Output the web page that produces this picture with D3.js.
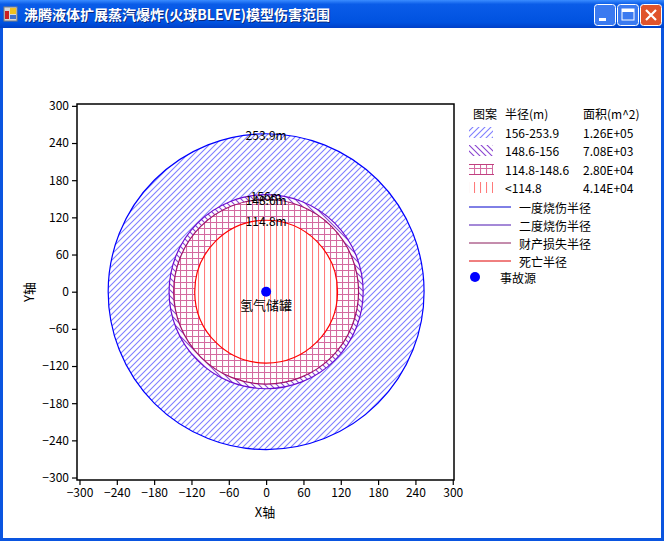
<!DOCTYPE html>
<html lang="zh">
<head>
<meta charset="UTF-8">
<title>BLEVE</title>
<style>
body { margin: 0; background: #fff; }
text { font-family: "Noto Sans CJK SC", "DejaVu Sans", sans-serif; }
</style>
</head>
<body>
<script src="https://d3js.org/d3.v7.min.js"></script>
<script>
// data
var windowTitle = '沸腾液体扩展蒸汽爆炸(火球BLEVE)模型伤害范围';
var radii = [253.9, 156, 148.6, 114.8];
var radiusLabels = ['253.9m', '156m', '148.6m', '114.8m'];
var rangeLabels = ['156-253.9', '148.6-156', '114.8-148.6', '<114.8'];
var areaLabels = ['1.26E+05', '7.08E+03', '2.80E+04', '4.14E+04'];
var lineNames = ['一度烧伤半径', '二度烧伤半径', '财产损失半径', '死亡半径'];
var tickValues = [-300, -240, -180, -120, -60, 0, 60, 120, 180, 240, 300];
var source = {x: 0, y: 0, name: '氢气储罐'};

var W = 664, H = 541;
var outline = ['#0000ff', '#6a0cd0', '#a0106a', '#ff0000'];
var legendLine = ['#0000cc', '#4a12b0', '#8a1a5a', '#e00000'];

var svg = d3.select('body').append('svg')
    .attr('width', W)
    .attr('height', H);

var defs = svg.append('defs');

// hatch patterns
function hatch(id, d, color) {
    defs.append('pattern').attr('id', id)
        .attr('patternUnits', 'userSpaceOnUse').attr('width', 6).attr('height', 6)
        .append('path').attr('d', d)
        .attr('fill', 'none')
        .attr('stroke', color).attr('stroke-width', 1.1);
}
hatch('hatch0', 'M-1,7 L7,-1 M-1,1 L1,-1 M5,7 L7,5', '#7f7fff');
hatch('hatch1', 'M-1,-1 L7,7 M5,-1 L7,1 M-1,5 L1,7', '#8a44d0');
hatch('hatch2', 'M0.5,0 V6 M0,0.5 H6', '#d46aa0');
hatch('hatch3', 'M0.5,0 V6', '#ff7a7a');

var fills = ['url(#hatch0)', 'url(#hatch1)', 'url(#hatch2)', 'url(#hatch3)'];

// window frame
var tg = defs.append('linearGradient').attr('id', 'titleGrad')
    .attr('x1', 0).attr('y1', 0).attr('x2', 0).attr('y2', 1);
tg.append('stop').attr('offset', '0').attr('stop-color', '#3a8cff');
tg.append('stop').attr('offset', '0.15').attr('stop-color', '#0a5ce8');
tg.append('stop').attr('offset', '0.8').attr('stop-color', '#0052e0');
tg.append('stop').attr('offset', '1').attr('stop-color', '#0040c8');

svg.append('rect').attr('width', W).attr('height', H).attr('fill', '#0a55e0');
svg.append('rect').attr('width', W).attr('height', 28).attr('fill', 'url(#titleGrad)');
svg.append('rect').attr('x', 3).attr('y', 28).attr('width', W - 6).attr('height', H - 31).attr('fill', '#fff');

// icon
svg.append('rect').attr('x', 4).attr('y', 7).attr('width', 13).attr('height', 14).attr('fill', '#d8d8d8').attr('stroke', '#808080');
svg.append('rect').attr('x', 5).attr('y', 11).attr('width', 4).attr('height', 8).attr('fill', '#cc2020');
svg.append('rect').attr('x', 10).attr('y', 8).attr('width', 6).attr('height', 6).attr('fill', '#f0c020');
svg.append('rect').attr('x', 10).attr('y', 15).attr('width', 6).attr('height', 4).attr('fill', '#4070d0');

svg.append('text')
    .attr('x', 24).attr('y', 20)
    .attr('fill', '#0a2a80')
    .attr('transform', 'translate(1,1)')
    .style('font-size', '14px').style('font-weight', 'bold')
    .text(windowTitle);
svg.append('text')
    .attr('x', 24).attr('y', 20)
    .attr('fill', '#fff')
    .style('font-size', '14px').style('font-weight', 'bold')
    .text(windowTitle);

// caption buttons
var btnX = [594, 617, 640];
btnX.forEach(function (bx, i) {
    svg.append('rect')
        .attr('x', bx + 0.5).attr('y', 4.5).attr('width', 21).attr('height', 21).attr('rx', 3)
        .attr('fill', i == 2 ? '#e0542c' : '#3b7af0')
        .attr('stroke', '#fff').attr('stroke-width', 1);
});
svg.append('rect').attr('x', 599).attr('y', 18).attr('width', 7).attr('height', 3).attr('fill', '#fff');
svg.append('rect').attr('x', 622).attr('y', 9).attr('width', 12).attr('height', 11).attr('fill', 'none').attr('stroke', '#fff').attr('stroke-width', 1);
svg.append('rect').attr('x', 622).attr('y', 9).attr('width', 12).attr('height', 3).attr('fill', '#fff');
svg.append('path').attr('d', 'M646,10 L656,20 M656,10 L646,20').attr('stroke', '#fff').attr('stroke-width', 2.2);

// chart area
var xScale = d3.scaleLinear().domain([-304, 302]).range([77, 454]);
var yScale = d3.scaleLinear().domain([-304, 303]).range([480, 104]);
var cx = xScale(source.x), cy = yScale(source.y);
function rpx(r) { return xScale(r) - xScale(0); }

var plot = svg.append('g');
plot.append('clipPath').attr('id', 'clip')
    .append('rect').attr('x', 77).attr('y', 104).attr('width', 377).attr('height', 376);

var circles = plot.append('g').attr('clip-path', 'url(#clip)');
radii.forEach(function (r, i) {
    circles.append('circle').attr('cx', cx).attr('cy', cy).attr('r', rpx(r)).attr('fill', '#fff');
    circles.append('circle').attr('cx', cx).attr('cy', cy).attr('r', rpx(r)).attr('fill', fills[i]);
});
radii.forEach(function (r, i) {
    circles.append('circle').attr('cx', cx).attr('cy', cy).attr('r', rpx(r))
        .attr('fill', 'none').attr('stroke', outline[i]).attr('stroke-width', 1.2);
});

radii.forEach(function (r, i) {
    plot.append('text')
        .attr('x', cx).attr('y', yScale(r))
        .attr('text-anchor', 'middle')
        .attr('dominant-baseline', 'central')
        .style('font-size', '12px')
        .text(radiusLabels[i]);
});

plot.append('circle').attr('cx', cx).attr('cy', cy).attr('r', 5).attr('fill', '#0000ff');
plot.append('text')
    .attr('x', cx).attr('y', cy + 13)
    .attr('text-anchor', 'middle')
    .attr('dominant-baseline', 'central')
    .style('font-size', '13px')
    .text(source.name);

// frame and axes
plot.append('rect').attr('x', 77).attr('y', 104).attr('width', 377).attr('height', 376)
    .attr('fill', 'none').attr('stroke', '#000').attr('stroke-width', 1.5);

var xAxis = plot.append('g')
    .attr('transform', 'translate(0,480)')
    .call(d3.axisBottom(xScale).tickValues(tickValues).tickSize(5).tickSizeOuter(0).tickPadding(3));
var yAxis = plot.append('g')
    .attr('transform', 'translate(77,0)')
    .call(d3.axisLeft(yScale).tickValues(tickValues).tickSize(5).tickSizeOuter(0).tickPadding(3));
[xAxis, yAxis].forEach(function (a) {
    a.select('.domain').remove();
    a.selectAll('line').attr('stroke', '#000').attr('stroke-width', 1.2);
    a.selectAll('text').style('font-size', '12px').attr('fill', '#000')
        .style('font-family', '"Noto Sans CJK SC", sans-serif');
});

plot.append('text')
    .attr('x', 265).attr('y', 511)
    .attr('text-anchor', 'middle')
    .attr('dominant-baseline', 'central')
    .style('font-size', '13px')
    .text('X轴');
plot.append('text')
    .attr('transform', 'translate(28,292) rotate(-90)')
    .attr('text-anchor', 'middle')
    .attr('dominant-baseline', 'central')
    .style('font-size', '13px')
    .text('Y轴');

// legend
var legend = svg.append('g').style('font-size', '12px');
function ltext(x, y, s) {
    legend.append('text').attr('x', x).attr('y', y)
        .attr('dominant-baseline', 'central').text(s);
}
ltext(473, 113, '图案');
ltext(505, 113, '半径(m)');
ltext(583, 113, '面积(m^2)');

var rowY = [132, 150, 169, 187];
rangeLabels.forEach(function (s, i) {
    var y = rowY[i];
    legend.append('rect').attr('x', 469).attr('y', y - 5).attr('width', 24).attr('height', 11)
        .attr('fill', fills[i]);
    if (i == 2) {
        legend.append('path').attr('d', 'M469,' + (y - 4.5) + ' H494 M469,' + (y + 5.5) + ' H494')
            .attr('stroke', '#c04080').attr('stroke-width', 1);
    }
    ltext(505, y, s);
    ltext(583, y, areaLabels[i]);
});

var lineY = [207, 225, 243, 261];
lineNames.forEach(function (s, i) {
    legend.append('line').attr('x1', 469).attr('x2', 511)
        .attr('y1', lineY[i]).attr('y2', lineY[i])
        .attr('stroke', legendLine[i]).attr('stroke-width', 1);
    ltext(519, lineY[i], s);
});

legend.append('circle').attr('cx', 475).attr('cy', 277).attr('r', 5).attr('fill', '#0000ff');
ltext(500, 277, '事故源');
</script>
</body>
</html>
